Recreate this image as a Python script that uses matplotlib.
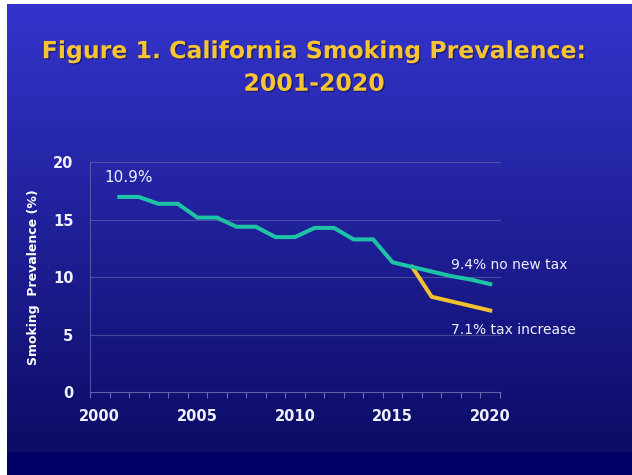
import numpy as np
import matplotlib
matplotlib.use("Agg")
import matplotlib.pyplot as plt
import matplotlib.patheffects as pe
from matplotlib.ticker import FixedLocator

# Smoking prevalence (%) by year
years = list(range(2001, 2021))
no_new_tax = [17.0, 17.0, 16.4, 16.4, 15.2, 15.2, 14.4, 14.4, 13.5, 13.5,
              14.3, 14.3, 13.3, 13.3, 11.3, 10.9, 10.5, 10.1, 9.8, 9.4]
tax_years = [2016, 2017, 2018, 2019, 2020]
tax_increase = [10.9, 8.3, 7.9, 7.5, 7.1]

x_ticks = [2000, 2005, 2010, 2015, 2020]
y_ticks = [0, 5, 10, 15, 20]

title = "Figure 1. California Smoking Prevalence:\n2001-2020"
y_label = "Smoking  Prevalence (%)"

W, H = 632, 475
fig = plt.figure(figsize=(W / 100, H / 100), dpi=100)
fig.patch.set_facecolor("white")

# slide background: vertical blue gradient with a dark footer band
bg = fig.add_axes([0, 0, 1, 1], zorder=-10)
bg.set_xlim(0, W)
bg.set_ylim(H, 0)
bg.axis("off")
top_c = np.array([0x34, 0x34, 0xCC]) / 255
bot_c = np.array([0x0C, 0x0C, 0x66]) / 255
rows = np.linspace(0, 1, 256)[:, None]
grad = (top_c[None, :] * (1 - rows) + bot_c[None, :] * rows)[:, None, :]
bg.imshow(grad, extent=(7, W, 452, 4), aspect="auto", interpolation="bilinear")
bg.add_patch(plt.Rectangle((7, 452), W - 7, H - 452, color="#000066", lw=0))

fig.text(0.497, 0.858, title, ha="center", va="center", color="#F7C532",
         fontsize=17, fontweight="bold", family="DejaVu Sans", linespacing=1.45,
         path_effects=[pe.withSimplePatchShadow(offset=(1.0, -1.0),
                                                shadow_rgbFace="#15154a", alpha=0.6)])

ax = fig.add_axes([90 / W, (H - 392) / H, 410 / W, 229.5 / H])
ax.set_facecolor("none")
ax.plot(years, no_new_tax, color="#1EC3A6", lw=2.9, solid_joinstyle="miter", zorder=3)
ax.plot(tax_years, tax_increase, color="#F2C12E", lw=2.9, zorder=2)

ax.set_xlim(1999.5, 2020.5)
ax.set_ylim(0, 20)
ax.set_xticks(x_ticks)
ax.set_yticks(y_ticks)
ax.xaxis.set_minor_locator(FixedLocator(np.arange(1999.5, 2021, 1)))
ax.tick_params(axis="x", which="major", length=0, pad=12, colors="white",
               labelsize=10.5)
ax.tick_params(axis="x", which="minor", length=4, color="#6a6ab0", width=0.8)
ax.tick_params(axis="y", length=0, pad=12, colors="white", labelsize=10.5)
for lbl in ax.get_xticklabels() + ax.get_yticklabels():
    lbl.set_fontweight("bold")
    lbl.set_color("#F0F0FF")

ax.grid(axis="y", color="#6a6ab0", lw=0.8, alpha=0.6)
for gl in ax.get_ygridlines():
    gl.set_clip_on(False)
for side in ("top", "right"):
    ax.spines[side].set_visible(False)
for side in ("left", "bottom"):
    ax.spines[side].set_color("#6a6ab0")
    ax.spines[side].set_alpha(0.7)
    ax.spines[side].set_linewidth(0.8)

ax.set_ylabel(y_label, color="white", fontsize=9, fontweight="bold", labelpad=9)

ax.text(2000.25, 18.0, "10.9%", color="#F0F0FF", fontsize=11, va="bottom", ha="left")
ax.text(2018.0, 11.1, "9.4% no new tax", color="#F0F0FF", fontsize=10,
        va="center", ha="left")
ax.text(2018.0, 5.4, "7.1% tax increase", color="#F0F0FF", fontsize=10,
        va="center", ha="left")

fig.savefig("out.png", dpi=100)
